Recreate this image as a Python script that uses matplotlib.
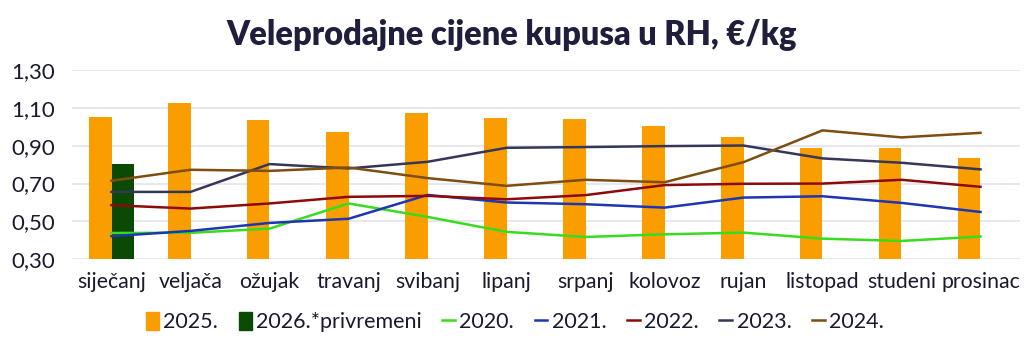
import matplotlib
matplotlib.use("Agg")
import matplotlib.pyplot as plt
import numpy as np
from matplotlib.lines import Line2D
from matplotlib.patches import Patch

plt.rcParams['font.family'] = ['Lato', 'DejaVu Sans']

months = ["siječanj", "veljača", "ožujak", "travanj", "svibanj", "lipanj",
          "srpanj", "kolovoz", "rujan", "listopad", "studeni", "prosinac"]
y2025 = [1.053, 1.127, 1.037, 0.974, 1.074, 1.048, 1.041, 1.005, 0.944, 0.887, 0.887, 0.833]
y2026 = [0.801]
y2020 = [0.439, 0.440, 0.462, 0.595, 0.524, 0.445, 0.418, 0.432, 0.441, 0.409, 0.397, 0.420]
y2021 = [0.422, 0.450, 0.492, 0.514, 0.640, 0.600, 0.591, 0.573, 0.626, 0.633, 0.598, 0.550]
y2022 = [0.586, 0.568, 0.595, 0.630, 0.635, 0.617, 0.639, 0.692, 0.699, 0.700, 0.720, 0.683]
y2023 = [0.656, 0.656, 0.803, 0.780, 0.815, 0.889, 0.893, 0.898, 0.901, 0.833, 0.810, 0.775]
y2024 = [0.715, 0.773, 0.767, 0.785, 0.729, 0.688, 0.720, 0.707, 0.813, 0.981, 0.944, 0.968]
yticks = [0.30, 0.50, 0.70, 0.90, 1.10, 1.30]

c2025 = "#FA9E00"
c2026 = "#0B4A05"
line_colors = {"2020.": "#38DC1E", "2021.": "#1E36B0", "2022.": "#8E0A0A",
               "2023.": "#35375A", "2024.": "#7E4E10"}
line_data = {"2020.": y2020, "2021.": y2021, "2022.": y2022, "2023.": y2023, "2024.": y2024}

fig = plt.figure(figsize=(10.24, 3.51), dpi=100)
ax = fig.add_axes([72/1024, 1 - 259.3/351, 948/1024, 189.3/351])

x = np.arange(len(months))
bw = 0.28
ax.bar(x - bw/2, y2025, width=bw, color=c2025, zorder=2)
ax.bar(x[:len(y2026)] + bw/2, y2026, width=bw, color=c2026, zorder=2)
for k, v in line_data.items():
    ax.plot(x, v, color=line_colors[k], lw=1.8, zorder=3)

ax.set_xlim(-0.5, 11.5)
ax.set_ylim(0.30, 1.30)
ax.set_yticks(yticks)
ax.set_yticklabels([f"{t:.2f}".replace(".", ",") for t in yticks], fontsize=16, color="#1a1a2e")
ax.set_xticks(x)
ax.set_xticklabels(months, fontsize=15.3, color="#1a1a2e")
ax.tick_params(length=0)
ax.tick_params(axis='y', pad=12)
ax.tick_params(axis='x', pad=9)
for s in ax.spines.values():
    s.set_visible(False)
ax.grid(axis='y', color="#E3E3EC", lw=1.2, zorder=0)
ax.set_axisbelow(True)

fig.text(0.5, 1 - 35/351, "Veleprodajne cijene kupusa u RH, €/kg", ha='center', va='center',
         fontsize=23.5, fontweight='heavy', color="#1f1f3d")

handles = [Patch(color=c2025, label="2025."), Patch(color=c2026, label="2026.*privremeni")]
for k in line_data:
    handles.append(Line2D([0], [0], color=line_colors[k], lw=1.8, label=k))
fig.legend(handles=handles, loc='center', bbox_to_anchor=(0.503, 1 - 322/351), ncol=7,
           frameon=False, fontsize=15.5, handlelength=0.6, handleheight=0.9, handletextpad=0.2,
           columnspacing=0.95, labelcolor="#1a1a2e")

fig.savefig("out.png", dpi=100)
